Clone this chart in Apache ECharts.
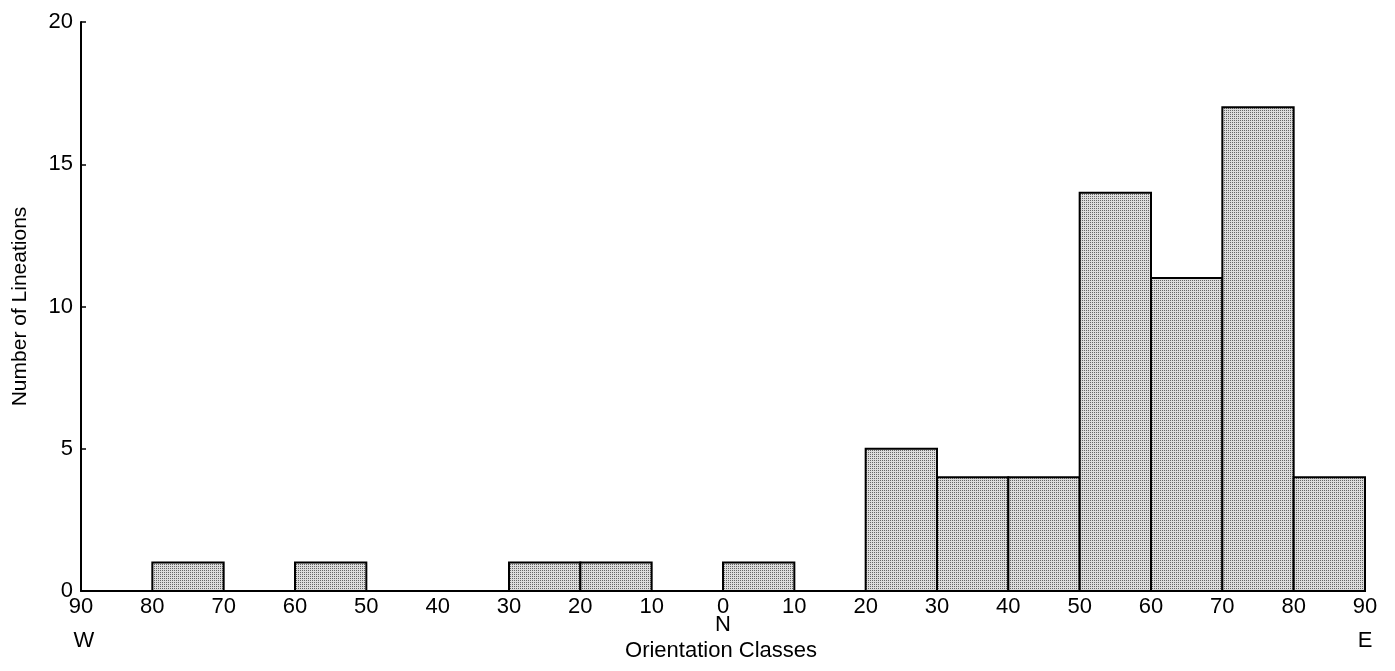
<!DOCTYPE html>
<html>
<head>
<meta charset="utf-8">
<script src="https://cdn.jsdelivr.net/npm/echarts@6/dist/echarts.min.js"></script>
<style>
  html, body { margin: 0; padding: 0; background: #fff; }
  #chart { width: 1395px; height: 671px; }
</style>
</head>
<body>
<div id="chart"></div>
<script>
// 方位分组 (W90 -> N0 -> E90)，按 0..180 的位置排列
var binStarts = [0, 10, 20, 30, 40, 50, 60, 70, 80, 90, 100, 110, 120, 130, 140, 150, 160, 170];
var counts    = [0, 1, 0, 1, 0, 0, 1, 1, 0, 1, 0, 5, 4, 4, 14, 11, 17, 4];
var xTickLabels = ['90', '80', '70', '60', '50', '40', '30', '20', '10', '0',
                   '10', '20', '30', '40', '50', '60', '70', '80', '90'];
var yTicks = [0, 5, 10, 15, 20];

// 点状填充
function makeDots() {
  var c = document.createElement('canvas');
  c.width = 2; c.height = 2;
  var ctx = c.getContext('2d');
  ctx.fillStyle = '#dcdcdc';
  ctx.fillRect(0, 0, 2, 2);
  ctx.fillStyle = '#666';
  ctx.fillRect(0, 0, 1, 1);
  return c;
}
var dots = makeDots();

var data = [];
for (var i = 0; i < binStarts.length; i++) {
  if (counts[i] > 0) data.push([binStarts[i], binStarts[i] + 10, counts[i]]);
}

var font = '"Liberation Sans", "DejaVu Sans", sans-serif';
var chart = echarts.init(document.getElementById('chart'));

var option = {
  animation: false,
  backgroundColor: '#fff',
  grid: { left: 81, right: 30, top: 22, bottom: 80, containLabel: false, outerBoundsMode: 'none' },
  xAxis: {
    type: 'value',
    min: 0, max: 180, interval: 10,
    axisLine: { lineStyle: { color: '#000', width: 2 } },
    axisTick: { show: false },
    splitLine: { show: false },
    axisLabel: {
      color: '#000', fontSize: 22, fontFamily: font, margin: 5,
      formatter: function (v) { return xTickLabels[Math.round(v / 10)]; }
    }
  },
  yAxis: {
    type: 'value',
    min: 0, max: 20, interval: 5,
    name: 'Number of Lineations',
    nameLocation: 'middle',
    nameGap: 50,
    nameTextStyle: { color: '#000', fontSize: 21, fontFamily: font },
    axisLine: { show: true, lineStyle: { color: '#000', width: 2 } },
    axisTick: { show: true, inside: true, length: 5, lineStyle: { color: '#000', width: 1.5 } },
    splitLine: { show: false },
    axisLabel: {
      color: '#000', fontSize: 22, fontFamily: font, margin: 8,
      formatter: function (v) { return yTicks.indexOf(v) >= 0 ? String(v) : ''; }
    }
  },
  series: [{
    type: 'custom',
    renderItem: function (params, api) {
      var p0 = api.coord([api.value(0), 0]);
      var p1 = api.coord([api.value(1), api.value(2)]);
      return {
        type: 'rect',
        shape: { x: p0[0], y: p1[1], width: p1[0] - p0[0], height: p0[1] - p1[1] },
        style: { fill: { image: dots, repeat: 'repeat' }, stroke: '#000', lineWidth: 2 }
      };
    },
    encode: { x: [0, 1], y: 2 },
    data: data
  }]
};
chart.setOption(option);

// 方向标注与横轴标题
var pW = chart.convertToPixel('grid', [0, 0]);
var pN = chart.convertToPixel('grid', [90, 0]);
var pE = chart.convertToPixel('grid', [180, 0]);
chart.setOption({
  graphic: [
    { type: 'text', x: pW[0] + 3, y: pW[1] + 50, style: { text: 'W', font: '22px ' + font, fill: '#000', textAlign: 'center', textVerticalAlign: 'middle' } },
    { type: 'text', x: pN[0], y: pN[1] + 34, style: { text: 'N', font: '22px ' + font, fill: '#000', textAlign: 'center', textVerticalAlign: 'middle' } },
    { type: 'text', x: pE[0], y: pE[1] + 50, style: { text: 'E', font: '22px ' + font, fill: '#000', textAlign: 'center', textVerticalAlign: 'middle' } },
    { type: 'text', x: pN[0] - 2, y: pN[1] + 60, style: { text: 'Orientation Classes', font: '22px ' + font, fill: '#000', textAlign: 'center', textVerticalAlign: 'middle' } }
  ]
});
</script>
</body>
</html>
